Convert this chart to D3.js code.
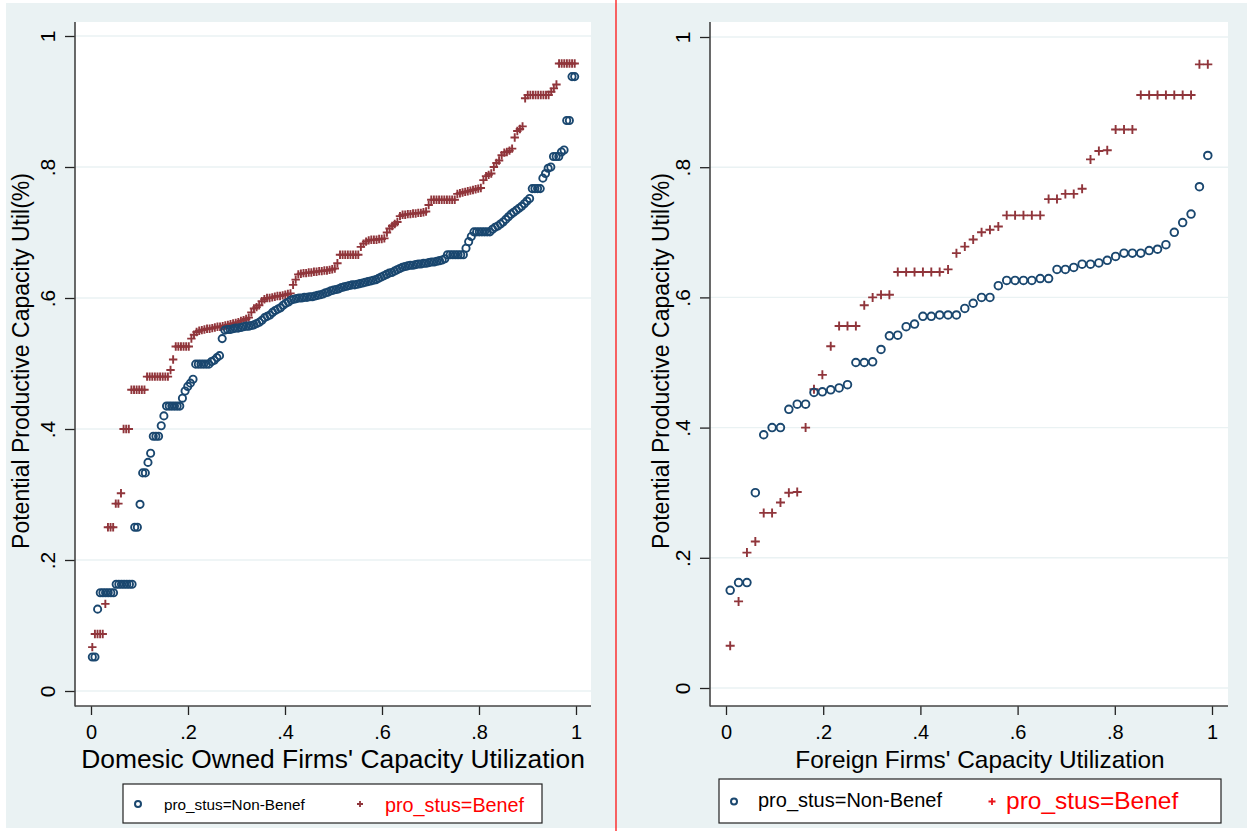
<!DOCTYPE html>
<html>
<head>
<meta charset="utf-8">
<script src="https://cdn.jsdelivr.net/npm/d3@7"></script>
<style>
  body { margin: 0; background: #fff; }
  text { font-family: "Liberation Sans", Arial, sans-serif; }
</style>
</head>
<body>
<div id="graphHolder"></div>
<script>
// ---- data ----
// domestic firms, sorted values stored as [value, how many points share it]
var domNonBenefRuns = [
    [0.052, 2], [0.125, 1], [0.150, 6], [0.163, 7], [0.250, 2], [0.285, 1], [0.333, 2], [0.349, 1],
    [0.363, 1], [0.389, 3], [0.405, 1], [0.420, 1], [0.435, 6], [0.447, 1], [0.458, 1], [0.465, 1],
    [0.470, 1], [0.476, 1], [0.499, 6], [0.503, 1], [0.505, 1], [0.509, 1], [0.512, 1], [0.538, 1],
    [0.551, 1], [0.552, 2], [0.553, 1], [0.554, 2], [0.555, 1], [0.556, 1], [0.557, 2], [0.558, 1], [0.559, 1],
    [0.561, 1], [0.563, 1], [0.566, 1], [0.570, 1], [0.572, 1], [0.574, 1], [0.578, 1], [0.581, 1],
    [0.583, 1], [0.585, 1], [0.589, 1], [0.592, 1], [0.594, 1], [0.597, 1],
    [0.598, 1], [0.599, 1], [0.600, 2], [0.601, 2], [0.602, 2], [0.603, 1], [0.604, 1], [0.605, 1], [0.606, 1],
    [0.608, 1], [0.609, 1], [0.611, 1], [0.612, 1], [0.613, 1], [0.614, 1], [0.616, 1], [0.617, 1],
    [0.618, 1], [0.619, 1], [0.620, 2], [0.621, 1], [0.622, 1], [0.623, 1], [0.624, 1], [0.625, 1],
    [0.626, 1], [0.627, 1], [0.628, 1], [0.630, 1], [0.632, 1], [0.634, 1], [0.636, 1],
    [0.638, 1], [0.639, 1], [0.641, 1], [0.643, 1], [0.645, 1], [0.647, 1], [0.648, 1], [0.649, 1],
    [0.650, 2], [0.651, 1], [0.652, 2], [0.653, 2], [0.654, 1], [0.655, 2], [0.656, 1], [0.657, 1],
    [0.658, 1], [0.660, 1],
    [0.666, 7], [0.676, 1], [0.686, 1], [0.694, 1], [0.701, 7],
    [0.705, 1], [0.708, 1], [0.710, 1], [0.713, 1], [0.716, 1], [0.720, 1], [0.724, 1], [0.728, 1],
    [0.731, 1], [0.734, 1], [0.737, 1], [0.740, 1], [0.744, 1], [0.748, 1], [0.752, 1],
    [0.767, 4], [0.783, 1], [0.790, 1], [0.798, 1], [0.800, 1], [0.816, 3], [0.823, 1], [0.826, 1],
    [0.871, 2], [0.938, 2]
];
var domBenefRuns = [
    [0.067, 1], [0.087, 4], [0.133, 1], [0.250, 3], [0.286, 2], [0.302, 1], [0.400, 3], [0.460, 6],
    [0.480, 9], [0.490, 1], [0.506, 1], [0.526, 6], [0.538, 1], [0.544, 1], [0.548, 1],
    [0.550, 1], [0.551, 1], [0.552, 1], [0.553, 2], [0.554, 1], [0.555, 1], [0.556, 2],
    [0.557, 1], [0.558, 1], [0.559, 1], [0.560, 1], [0.561, 1], [0.562, 1], [0.563, 1], [0.565, 1],
    [0.566, 1], [0.568, 1], [0.570, 1],
    [0.578, 1], [0.584, 1], [0.586, 1], [0.589, 1],
    [0.595, 1], [0.598, 1], [0.600, 2], [0.601, 1], [0.602, 1], [0.603, 2], [0.604, 1], [0.605, 1],
    [0.606, 1], [0.607, 1], [0.620, 1], [0.628, 1],
    [0.636, 1], [0.637, 1], [0.638, 2], [0.639, 2], [0.640, 2], [0.641, 2], [0.642, 2], [0.643, 1],
    [0.644, 1], [0.645, 1], [0.653, 1], [0.666, 8],
    [0.678, 1], [0.683, 1], [0.686, 1], [0.688, 1], [0.689, 3], [0.690, 2], [0.691, 1],
    [0.700, 1], [0.706, 1], [0.710, 1], [0.713, 1], [0.716, 1],
    [0.725, 1], [0.727, 2], [0.728, 2], [0.729, 2], [0.730, 2], [0.731, 1], [0.732, 1],
    [0.742, 1], [0.750, 10],
    [0.759, 1], [0.760, 1], [0.761, 1], [0.762, 1], [0.763, 1], [0.764, 1], [0.765, 1], [0.766, 1],
    [0.767, 1], [0.768, 1],
    [0.780, 1], [0.786, 1], [0.788, 1], [0.790, 1], [0.800, 1], [0.806, 1], [0.810, 1],
    [0.818, 1], [0.822, 1], [0.823, 1], [0.825, 1], [0.828, 1],
    [0.845, 1], [0.855, 1], [0.858, 1], [0.862, 1], [0.905, 1], [0.910, 9],
    [0.915, 1], [0.920, 1], [0.926, 1], [0.958, 7]
];

// foreign firms, one value per firm (sorted)
var forNonBenef = [0.150, 0.162, 0.162, 0.300, 0.389, 0.400, 0.400, 0.428, 0.436, 0.436,
    0.454, 0.455, 0.458, 0.461, 0.466, 0.500, 0.500, 0.501, 0.520, 0.541,
    0.542, 0.555, 0.559, 0.571, 0.571, 0.573, 0.573, 0.573, 0.583, 0.591,
    0.600, 0.600, 0.618, 0.626, 0.626, 0.626, 0.626, 0.629, 0.629, 0.643,
    0.643, 0.646, 0.651, 0.651, 0.653, 0.657, 0.663, 0.668, 0.668, 0.668,
    0.672, 0.674, 0.681, 0.700, 0.715, 0.728, 0.770, 0.818];
var forBenef = [0.065, 0.133, 0.208, 0.225, 0.269, 0.269, 0.285, 0.300, 0.301, 0.400,
    0.459, 0.481, 0.525, 0.556, 0.556, 0.556, 0.588, 0.600, 0.604, 0.604,
    0.639, 0.639, 0.639, 0.639, 0.639, 0.639, 0.643, 0.668, 0.678, 0.689,
    0.700, 0.704, 0.709, 0.726, 0.726, 0.726, 0.726, 0.726, 0.751, 0.751,
    0.759, 0.759, 0.767, 0.812, 0.825, 0.826, 0.858, 0.858, 0.858, 0.911,
    0.911, 0.911, 0.911, 0.911, 0.911, 0.911, 0.958, 0.958];

var tickVals = [0, 0.2, 0.4, 0.6, 0.8, 1];
var tickText = ["0", ".2", ".4", ".6", ".8", "1"];
var legendLabels = ["pro_stus=Non-Benef", "pro_stus=Benef"];
var yTitle = "Potential Productive Capacity Util(%)";

var W = 1251, H = 831;
var bg = "#eaf2f3", blue = "#1a476f", maroon = "#90353b";

function expandRuns(runs) {
    var out = [];
    runs.forEach(function (r) {
        for (var k = 0; k < r[1]; k++) out.push(r[0]);
    });
    return out;
}

// quantile plot: x is the fraction of the data
function quantiles(vals) {
    var n = vals.length;
    return vals.map(function (v, i) {
        return {q: (i + 0.5) / n, v: v};
    });
}

var svg = d3.select("#graphHolder")
        .append("svg").attr("id", "graph")
        .attr("width", W)
        .attr("height", H);

svg.append("rect").attr("width", W).attr("height", H).attr("fill", "#fff");
svg.append("rect").attr("x", 6).attr("y", 3)
        .attr("width", 1241).attr("height", 825).attr("fill", bg);

var panels = [
    {
        xr: [91, 576], yr: [691, 36], box: {l: 75, t: 22, r: 591, b: 706},
        nonBenef: expandRuns(domNonBenefRuns), benef: expandRuns(domBenefRuns),
        r: 3.6, arm: 4.2, sw: 1.9,
        xTitle: "Domesic Owned Firms' Capacity Utilization", xTitleSize: 26.4, xTitleX: 333,
        yTitleX: 29,
        legend: {l: 123, t: 784, r: 542, b: 823, cx: 138, t1x: 164, s1: 15.3, px: 360, t2x: 385, s2: 19.8,
            plusCol: maroon, arm: 3}
    },
    {
        xr: [726, 1212], yr: [688, 37], box: {l: 710, t: 22, r: 1228, b: 706},
        nonBenef: forNonBenef, benef: forBenef,
        r: 3.8, arm: 4.5, sw: 1.9,
        xTitle: "Foreign Firms' Capacity Utilization", xTitleSize: 24.4, xTitleX: 980,
        yTitleX: 669,
        legend: {l: 719, t: 779, r: 1221, b: 823, cx: 734, t1x: 758, s1: 20, px: 992, t2x: 1006, s2: 24.5,
            plusCol: "#e8141b", arm: 3.5}
    }
];

panels.forEach(function (p) {
    var b = p.box;
    var x = d3.scaleLinear().domain([0, 1]).range(p.xr);
    var y = d3.scaleLinear().domain([0, 1]).range(p.yr);

    var g = svg.append("g");

    g.append("rect").attr("x", b.l).attr("y", b.t)
            .attr("width", b.r - b.l).attr("height", b.b - b.t)
            .attr("fill", "#fff");

    // grid
    g.selectAll(".grid").data(tickVals).enter().append("line")
            .attr("x1", b.l).attr("x2", b.r)
            .attr("y1", function (d) { return y(d); })
            .attr("y2", function (d) { return y(d); })
            .attr("stroke", bg).attr("stroke-width", 1.4);

    // axes
    var gy = g.append("g").attr("transform", "translate(" + b.l + ",0)")
            .call(d3.axisLeft(y).tickValues(tickVals)
                    .tickFormat(function (d, i) { return tickText[i]; })
                    .tickSize(10).tickSizeOuter(0));
    gy.select(".domain").remove();
    gy.selectAll(".tick line").attr("stroke", "#222").attr("stroke-width", 1.3);
    gy.selectAll(".tick text")
            .attr("x", 0).attr("y", -20).attr("dy", 0)
            .attr("transform", "rotate(-90)")
            .attr("text-anchor", "middle")
            .attr("fill", "#000")
            .style("font-size", "21px");

    var gx = g.append("g").attr("transform", "translate(0," + b.b + ")")
            .call(d3.axisBottom(x).tickValues(tickVals)
                    .tickFormat(function (d, i) { return tickText[i]; })
                    .tickSize(9).tickSizeOuter(0));
    gx.select(".domain").remove();
    gx.selectAll(".tick line").attr("stroke", "#222").attr("stroke-width", 1.3);
    gx.selectAll(".tick text")
            .attr("y", 33).attr("dy", 0)
            .attr("fill", "#000")
            .style("font-size", "20px");

    g.append("line").attr("x1", b.l).attr("x2", b.l).attr("y1", b.t).attr("y2", b.b + 0.5)
            .attr("stroke", "#444").attr("stroke-width", 1.6);
    g.append("line").attr("x1", b.l).attr("x2", b.r).attr("y1", b.b).attr("y2", b.b)
            .attr("stroke", "#444").attr("stroke-width", 1.6);

    // titles
    g.append("text")
            .attr("x", p.xTitleX).attr("y", 768)
            .attr("text-anchor", "middle")
            .style("font-size", p.xTitleSize + "px")
            .attr("fill", "#000")
            .text(p.xTitle);

    g.append("text")
            .attr("transform", "translate(" + p.yTitleX + ",361) rotate(-90)")
            .attr("text-anchor", "middle")
            .style("font-size", "23px")
            .attr("fill", "#000")
            .text(yTitle);

    // points
    var plus = "M" + (-p.arm) + ",0H" + p.arm + "M0," + (-p.arm) + "V" + p.arm;

    g.selectAll(".benef").data(quantiles(p.benef)).enter().append("path")
            .attr("d", plus)
            .attr("transform", function (d) {
                return "translate(" + x(d.q) + "," + y(d.v) + ")";
            })
            .attr("fill", "none")
            .attr("stroke", maroon)
            .attr("stroke-width", p.sw);

    g.selectAll(".nonbenef").data(quantiles(p.nonBenef)).enter().append("circle")
            .attr("cx", function (d) { return x(d.q); })
            .attr("cy", function (d) { return y(d.v); })
            .attr("r", p.r)
            .attr("fill", "none")
            .attr("stroke", blue)
            .attr("stroke-width", p.sw);

    // legend
    var L = p.legend;
    var cy = (L.t + L.b) / 2 + 0.5;
    g.append("rect").attr("x", L.l).attr("y", L.t)
            .attr("width", L.r - L.l).attr("height", L.b - L.t)
            .attr("fill", "#fff").attr("stroke", "#222").attr("stroke-width", 1.2);
    g.append("circle").attr("cx", L.cx).attr("cy", cy).attr("r", 3)
            .attr("fill", "none").attr("stroke", blue).attr("stroke-width", 2);
    g.append("text").attr("x", L.t1x).attr("y", cy + 5.5)
            .style("font-size", L.s1 + "px").attr("fill", "#000")
            .text(legendLabels[0]);
    g.append("path")
            .attr("d", "M" + (-L.arm) + ",0H" + L.arm + "M0," + (-L.arm) + "V" + L.arm)
            .attr("transform", "translate(" + L.px + "," + cy + ")")
            .attr("stroke", L.plusCol).attr("stroke-width", 1.8);
    g.append("text").attr("x", L.t2x).attr("y", cy + 7.5)
            .style("font-size", L.s2 + "px").attr("fill", "#ff0000")
            .text(legendLabels[1]);
});

// divider between the two graphs
svg.append("line").attr("x1", 616).attr("x2", 616).attr("y1", 0).attr("y2", H)
        .attr("stroke", "#ff0000").attr("stroke-width", 1.2);
</script>
</body>
</html>
